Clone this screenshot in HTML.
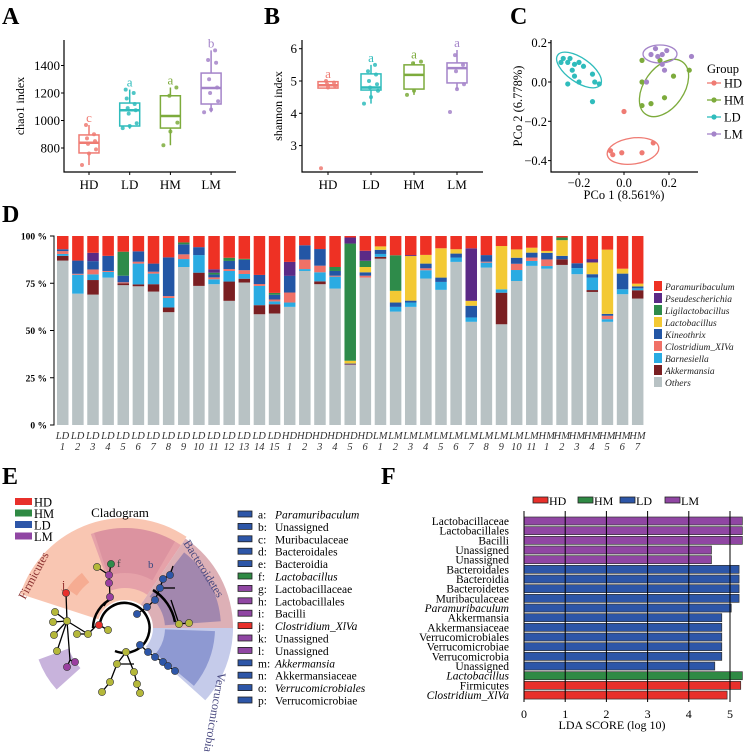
<!DOCTYPE html>
<html><head><meta charset="utf-8"><style>
html,body{margin:0;padding:0;background:#fff}
svg{display:block;font-family:"Liberation Serif",serif}
</style></head><body>
<svg id="fig" width="754" height="752" viewBox="0 0 754 752" xmlns="http://www.w3.org/2000/svg">
<g font-weight="bold" font-size="24" fill="#000">
<text x="2" y="24">A</text>
<text x="264" y="24">B</text>
<text x="510" y="24">C</text>
<text x="2" y="222">D</text>
<text x="2" y="484">E</text>
<text x="381" y="484">F</text>
</g>
<g id="pa"></g>
<g id="pb"></g>
<g id="pc"></g>
<g id="pd"></g>
<g id="pe"></g>
<g id="pf"></g>
</svg>
<script>
// ---------- data ----------
const groupNames = ["HD","LD","HM","LM"];
const groupColors = ["#ef7b73","#2fbcbc","#7dab3c","#a484c9"];
const chaoQ1 = [764,960,945,1120];
const chaoMed = [838,1075,1033,1236];
const chaoQ3 = [895,1127,1180,1345];
const chaoLo = [676,940,820,1060];
const chaoHi = [967,1225,1240,1510];
const chaoLetters = ["c","a","a","b"];
const chaoPts = [[676,760,790,830,850,870,900,967],[945,960,980,1050,1075,1090,1120,1160,1200,1225],[820,920,985,1180,1240],[1060,1080,1140,1200,1240,1300,1420,1440,1510]];
const shQ1 = [4.78,4.72,4.75,4.94];
const shMed = [4.87,4.8,5.19,5.4];
const shQ3 = [4.98,5.22,5.5,5.56];
const shLo = [4.75,4.3,4.57,4.75];
const shHi = [5.0,5.5,5.6,5.96];
const shLetters = ["a","a","a","a"];
const shPts = [[2.3,4.8,4.85,4.9,4.95,5.0],[4.3,4.5,4.7,4.8,4.9,5.0,5.2,5.3,5.5],[4.57,4.7,5.6,5.55],[4.04,4.75,4.9,5.3,5.5,5.8]];
const pcoLDx = [-0.28,-0.27,-0.25,-0.24,-0.22,-0.2,-0.18,-0.23,-0.22,-0.25,-0.2,-0.14,-0.13,-0.11,-0.14];
const pcoLDy = [0.1,0.12,0.1,0.12,0.09,0.1,0.08,0.06,0.03,-0.01,0.0,0.04,0.0,-0.01,-0.1];
const pcoHDx = [0.0,-0.06,-0.05,-0.01,0.08,0.13];
const pcoHDy = [-0.15,-0.35,-0.37,-0.36,-0.36,-0.31];
const pcoHMx = [0.08,0.08,0.12,0.08,0.18,0.22,0.29,0.16];
const pcoHMy = [0.11,0.0,-0.11,-0.12,-0.08,0.03,0.06,0.11];
const pcoLMx = [0.12,0.15,0.17,0.19,0.17,0.18,0.1,0.3,0.14];
const pcoLMy = [0.14,0.13,0.14,0.16,0.09,0.06,0.0,0.13,0.17];
const pcoXTicks = [-0.2,0.0,0.2];
const pcoYTicks = [0.2,0.0,-0.2,-0.4];

const samples = ["LD 1","LD 2","LD 3","LD 4","LD 5","LD 6","LD 7","LD 8","LD 9","LD 10","LD 11","LD 12","LD 13","LD 14","LD 15","HD 1","HD 2","HD 3","HD 4","HD 5","HD 6","LM 1","LM 2","LM 3","LM 4","LM 5","LM 6","LM 7","LM 8","LM 9","LM 10","LM 11","HM 1","HM 2","HM 3","HM 4","HM 5","HM 6","HM 7"];
const taxa = ["Others","Akkermansia","Barnesiella","Clostridium_XIVa","Kineothrix","Lactobacillus","Ligilactobacillus","Pseudescherichia","Paramuribaculum"];
const taxaColors = ["#b8c2c4","#7a1f22","#2aabe2","#f07167","#2356a5","#f3c934","#2e8b4a","#5b2a86","#ee3124"];
// per sample: [Others, Akk, Barn, Clos, Kin, Lacto, Ligi, Pseu, Para]
const abund = [
[87,2.5,1,1.5,1,0,0,0,7],[69.5,0,10,0.5,7,0,0,0,13],[69,7.7,3,2.6,4.4,0,0,4.4,8.9],[78,0,3,0.5,8,0,0,0,10.5],
[74,1,0,0.5,3.5,0,12.7,0,8.3],[73.4,1,11,1,5.5,0,0,0,8.1],[70.6,3.9,5.6,1,4.3,0,0,0,14.6],[59.7,2.5,5,1,20.5,0,0,0,11.3],
[83.6,0,4.2,2.5,5.3,0,1,0,3.4],[73.6,7,9.3,0,4.2,0,0,0,5.9],[74.5,0,2.6,1,1.5,0,1,1.8,17.6],[65.7,10.2,5.6,1,4.3,0,1.7,0,11.5],
[75.4,2,2.5,2,5.5,0,0.5,0,12.1],[58.6,4.8,10.2,1,4.8,0,0,0,20.6],[59,4.9,1.5,1,2.5,0,1,0,30.1],[62.5,0,2.3,5.3,8.8,0,0,7.4,13.7],
[81.5,0,1,5,7.6,0,0,0,4.9],[74.5,1.5,4.8,3.5,8.8,0,0,0,6.9],[72.2,0,6.3,0.5,2.5,0,2.1,0,16.4],[31.7,0,0,0.3,0.5,1.5,62,3.2,0.8],
[78,0,0,1,1.8,2.8,3.3,5.3,7.8],[88,1,1.5,0,2.2,1.8,0,0,5.5],[60,0,2.5,0,2.3,6.2,18.8,0,10.2],[62.5,0,2.3,0,1,23.6,0,0.5,10.1],
[77.5,0,4.4,1,2.5,4.6,0,0,10],[71.5,0,4.2,0,2.3,15.5,0,0,6.5],[86.3,0,2.3,0,2.1,2.3,0,0,7],[54.6,0,2.3,0,6.2,2.6,0,27.8,6.5],
[83.3,0,2.6,0.5,3.5,0,0,0,10.1],[53.3,16.7,1.8,0,0,22.9,0,0,5.3],[76.2,0,5.8,3.3,3.2,4.4,0,0,7.1],[84.2,0,2.6,1.8,2.6,2.6,0,0,6.2],
[82.7,0,1.4,3.5,3.5,1,0,0,7.9],[84.7,3,0,0,1.8,8.3,1.4,0,0.8],[79.8,0,3.2,0,2.6,0,0,0,14.4],[70.4,1,6.6,0,1.8,6.2,0,1.8,12.2],
[54.6,0,1.4,1.8,1,34,0,0,7.2],[69.2,0,2.6,0,8.3,2.6,0,0,17.3],[66.9,4.4,1,0,1,1.5,0,0,25.2]];
const dTicks = [0,25,50,75,100];

const ldaLabels = ["Lactobacillaceae","Lactobacillales","Bacilli","Unassigned","Unassigned","Bacteroidales","Bacteroidia","Bacteroidetes","Muribaculaceae","Paramuribaculum","Akkermansia","Akkermansiaceae","Verrucomicrobiales","Verrucomicrobiae","Verrucomicrobia","Unassigned","Lactobacillus","Firmicutes","Clostridium_XlVa"];
const ldaValues = [5.3,5.3,5.3,4.55,4.55,5.22,5.22,5.22,5.22,5.03,4.8,4.8,4.8,4.8,4.8,4.63,5.3,5.26,4.93];
const ldaGroup = ["LM","LM","LM","LM","LM","LD","LD","LD","LD","LD","LD","LD","LD","LD","LD","LD","HM","HD","HD"];
const ldaItalic = [0,0,0,0,0,0,0,0,0,1,0,0,0,0,0,0,1,0,1];
const ldaTicks = [0,1,2,3,4,5];
const ldaGroups = ["HD","HM","LD","LM"];
const ldaColors = {HD:"#e8302b",HM:"#2f8a44",LD:"#2d56a8",LM:"#9046a3"};

const cladeKeys = ["a:","b:","c:","d:","e:","f:","g:","h:","i:","j:","k:","l:","m:","n:","o:","p:"];
const cladeNames = ["Paramuribaculum","Unassigned","Muribaculaceae","Bacteroidales","Bacteroidia","Lactobacillus","Lactobacillaceae","Lactobacillales","Bacilli","Clostridium_XlVa","Unassigned","Unassigned","Akkermansia","Akkermansiaceae","Verrucomicrobiales","Verrucomicrobiae"];
const cladeGroup = ["LD","LD","LD","LD","LD","HM","LM","LM","LM","HD","LM","LM","LD","LD","LD","LD"];
const cladeItalic = [1,0,0,0,0,1,0,0,0,1,0,0,1,0,1,0];

// ---------- helpers ----------
const NS="http://www.w3.org/2000/svg";
function mk(parent,tag,attrs,text){const e=document.createElementNS(NS,tag);for(const k in attrs)e.setAttribute(k,attrs[k]);if(text!==undefined)e.textContent=text;parent.appendChild(e);return e;}

// ---------- panel A ----------
(function(){
const g=document.getElementById('pa');
const yA=v=>148-(v-800)*0.1375;
const xA=i=>89+i*40.7;
mk(g,'path',{d:'M64 40 V172 H236',fill:'none',stroke:'#000','stroke-width':1.2});
[800,1000,1200,1400].forEach(t=>{mk(g,'line',{x1:61,x2:64,y1:yA(t),y2:yA(t),stroke:'#000'});
const tl=mk(g,'text',{x:60,y:yA(t)+4.5,'text-anchor':'end','font-size':13},t);

});
const yt=mk(g,'text',{transform:'translate(24,106) rotate(-90)','text-anchor':'middle','font-size':12},'chao1 index');


groupNames.forEach((n,i)=>{
const x=xA(i),c=groupColors[i];
mk(g,'line',{x1:x,x2:x,y1:yA(chaoLo[i]),y2:yA(chaoHi[i]),stroke:c,'stroke-width':1.5});
const b=mk(g,'rect',{x:x-10,y:yA(chaoQ3[i]),width:20,height:yA(chaoQ1[i])-yA(chaoQ3[i]),fill:'#fff',stroke:c,'stroke-width':1.5});


mk(g,'line',{x1:x-10,x2:x+10,y1:yA(chaoMed[i]),y2:yA(chaoMed[i]),stroke:c,'stroke-width':2.5});
chaoPts[i].forEach((v,j)=>mk(g,'circle',{cx:x+((j*7)%15-7),cy:yA(v),r:2,fill:c,opacity:.85}));
mk(g,'text',{x:x,y:yA(chaoHi[i])-3,'text-anchor':'middle','font-size':13,fill:c},chaoLetters[i]);
const xl=mk(g,'text',{x:x,y:189,'text-anchor':'middle','font-size':13},n);


mk(g,'line',{x1:x,x2:x,y1:172,y2:175,stroke:'#000'});
});
})();

// ---------- panel B ----------
(function(){
const g=document.getElementById('pb');
const yB=v=>81-(v-5)*32.3;
const xB=i=>328+i*43;
mk(g,'path',{d:'M302 40 V172 H483',fill:'none',stroke:'#000','stroke-width':1.2});
[3,4,5,6].forEach(t=>{mk(g,'line',{x1:299,x2:302,y1:yB(t),y2:yB(t),stroke:'#000'});
const tl=mk(g,'text',{x:297,y:yB(t)+4.5,'text-anchor':'end','font-size':13},t);

});
const yt=mk(g,'text',{transform:'translate(282,106) rotate(-90)','text-anchor':'middle','font-size':12},'shannon index');


groupNames.forEach((n,i)=>{
const x=xB(i),c=groupColors[i];
mk(g,'line',{x1:x,x2:x,y1:yB(shLo[i]),y2:yB(shHi[i]),stroke:c,'stroke-width':1.5});
const b=mk(g,'rect',{x:x-10,y:yB(shQ3[i]),width:20,height:yB(shQ1[i])-yB(shQ3[i]),fill:'#fff',stroke:c,'stroke-width':1.5});


mk(g,'line',{x1:x-10,x2:x+10,y1:yB(shMed[i]),y2:yB(shMed[i]),stroke:c,'stroke-width':2.5});
shPts[i].forEach((v,j)=>mk(g,'circle',{cx:x+((j*7)%15-7),cy:yB(v),r:2,fill:c,opacity:.85}));
mk(g,'text',{x:x,y:yB(shHi[i])-3,'text-anchor':'middle','font-size':13,fill:c},shLetters[i]);
const xl=mk(g,'text',{x:x,y:189,'text-anchor':'middle','font-size':13},n);


mk(g,'line',{x1:x,x2:x,y1:172,y2:175,stroke:'#000'});
});
})();

// ---------- panel C ----------
(function(){
const g=document.getElementById('pc');
const xC=v=>624+v*225, yC=v=>82-v*196.5;
mk(g,'path',{d:'M551 40 V172 H698',fill:'none',stroke:'#000','stroke-width':1.2});
pcoYTicks.forEach(t=>{mk(g,'line',{x1:548,x2:551,y1:yC(t),y2:yC(t),stroke:'#000'});
const tl=mk(g,'text',{x:547,y:yC(t)+4.5,'text-anchor':'end','font-size':12.5},t.toFixed(1).replace('-','\u2212'));

});
pcoXTicks.forEach(t=>{mk(g,'line',{x1:xC(t),x2:xC(t),y1:172,y2:175,stroke:'#000'});
const tl=mk(g,'text',{x:xC(t),y:187,'text-anchor':'middle','font-size':12.5},t.toFixed(1).replace('-','\u2212'));

});
const xt=mk(g,'text',{x:624,y:199,'text-anchor':'middle','font-size':12.5},'PCo 1 (8.561%)');


const yt=mk(g,'text',{transform:'translate(522,106) rotate(-90)','text-anchor':'middle','font-size':12.5},'PCo 2 (6.778%)');


const ell=[['#2fbcbc',579,70,26,12,35],['#7dab3c',664,88,32,20,-55],['#a484c9',660,54,17,9,0],['#ef7b73',633,151,26,13,-8]];
ell.forEach(e=>{const el=mk(g,'ellipse',{cx:e[1],cy:e[2],rx:e[3],ry:e[4],transform:`rotate(${e[5]} ${e[1]} ${e[2]})`,fill:'none',stroke:e[0],'stroke-width':1.3});

});
const sets=[[pcoLDx,pcoLDy,'#2fbcbc'],[pcoHDx,pcoHDy,'#ef7b73'],[pcoHMx,pcoHMy,'#7dab3c'],[pcoLMx,pcoLMy,'#a484c9']];
sets.forEach(s=>s[0].forEach((x,i)=>{const p=mk(g,'circle',{cx:xC(x),cy:yC(s[1][i]),r:2.6,fill:s[2]});

}));
mk(g,'text',{x:707,y:73,'font-size':12.5},'Group');
[['HD','#ef7b73'],['HM','#7dab3c'],['LD','#2fbcbc'],['LM','#a484c9']].forEach((l,i)=>{
const y=83+i*17;
const le=mk(g,'g',{});


mk(le,'line',{x1:707,x2:721,y1:y,y2:y,stroke:l[1],'stroke-width':1.3});
mk(le,'circle',{cx:714,cy:y,r:2.6,fill:l[1]});
mk(le,'text',{x:724,y:y+4.5,'font-size':12.5},l[0]);
});
})();

// ---------- panel D ----------
(function(){
const g=document.getElementById('pd');
const yD=p=>425-p*1.89, xD=i=>57+i*15.13;
mk(g,'path',{d:'M51 236 H54 V425 H51',fill:'none',stroke:'#000','stroke-width':1});
dTicks.forEach(t=>{mk(g,'line',{x1:50,x2:54,y1:yD(t),y2:yD(t),stroke:'#000'});
const tl=mk(g,'text',{x:47,y:yD(t)+3.5,'text-anchor':'end','font-size':9.5,'font-weight':'bold'},t+' %');

});
abund.forEach((row,i)=>{
let cum=0;
const bg=mk(g,'g',{});


const tot=row.reduce((a,b)=>a+b,0);
row.forEach((v,k)=>{const p=v/tot*100;if(p<=0)return;
mk(bg,'rect',{x:xD(i),y:yD(cum+p),width:11.5,height:p*1.89,fill:taxaColors[k]});cum+=p;});
const [a,b]=samples[i].split(' ');
const lb=mk(g,'text',{x:xD(i)+5.5,y:439,'text-anchor':'middle','font-size':10.5,'font-style':'italic',fill:'#333'});


mk(lb,'tspan',{x:xD(i)+5.5,y:439},a);mk(lb,'tspan',{x:xD(i)+5.5,y:450},b);
});
const order=[8,7,6,5,4,3,2,1,0];
order.forEach((k,j)=>{const y=287+j*12;
const le=mk(g,'g',{});


mk(le,'rect',{x:654,y:y-6,width:8,height:10,fill:taxaColors[k]});
mk(le,'text',{x:665,y:y+3,'font-size':9.5,'font-style':'italic',fill:'#222'},taxa[k]);});
})();

// ---------- panel E ----------
(function(){
const g=document.getElementById('pe');
const cx=125,cy=628;
function wedge(r0,r1,a0,a1,fill,op){const rad=a=>a*Math.PI/180;
const p=(r,a)=>[cx+r*Math.cos(rad(a)),cy-r*Math.sin(rad(a))];
const [x1,y1]=p(r1,a0),[x2,y2]=p(r1,a1),[x3,y3]=p(r0,a1),[x4,y4]=p(r0,a0);
const lg=(a1-a0)>180?1:0;
return mk(g,'path',{d:`M${x1} ${y1} A${r1} ${r1} 0 ${lg} 0 ${x2} ${y2} L${x3} ${y3} A${r0} ${r0} 0 ${lg} 1 ${x4} ${y4}Z`,fill:fill,opacity:op});}
wedge(28,110,56,162,'#f9c6b2',1);
wedge(40,100,56,110,'#d88aa4',.6);
wedge(55,100,60,108,'#c9798f',.35);
wedge(58,70,128,146,'#f5a88e',.9);
wedge(28,108,0,56,'#ddb0b6',1);
wedge(40,96,4,52,'#8e7aab',.75);
wedge(28,108,-42,0,'#c5cbea',1);
wedge(40,90,-40,-2,'#7f8ccc',.8);
wedge(60,92,200,222,'#c8b3dc',1);
mk(g,'circle',{cx:cx,cy:cy,r:24,fill:'#fff'});
mk(g,'path',{d:`M${cx-25} ${cy-5} A25 25 0 1 1 ${cx-10} ${cy+23}`,fill:'none',stroke:'#000','stroke-width':2.5});
mk(g,'path',{d:`M${cx-32} ${cy} A33 33 0 0 1 ${cx-12} ${cy-30}`,fill:'none',stroke:'#000','stroke-width':2.5});
mk(g,'path',{d:`M${cx+28} ${cy-38} A48 48 0 0 1 ${cx+50} ${cy-6}`,fill:'none',stroke:'#000','stroke-width':2.5});
const lines=[[97,625,88,634],[88,634,77,634],[88,634,67,621],[67,621,66,593],[67,621,55,612],[67,621,54,635],[67,621,57,651],[67,621,53,622],[67,621,70,660],[70,660,75,662],[70,660,67,667],
[110,597,109,575],[109,575,111,564],[110,597,104,606],[109,575,97,567],[99,625,108,630],
[126,652,117,664],[117,664,110,682],[110,682,102,692],[126,652,134,672],[134,672,137,684],[137,684,140,693],[117,664,134,664],
[137,614,147,607],[147,607,155,600],[155,600,160,588],[160,588,163,579],[163,579,170,575],[160,588,175,588],[170,575,173,566],[171,600,179,624],[179,624,189,623],
[140,645,148,652],[148,652,155,657],[155,657,163,662],[163,662,168,666],[168,666,175,671]];
lines.forEach(l=>mk(g,'line',{x1:l[0],y1:l[1],x2:l[2],y2:l[3],stroke:'#000','stroke-width':1.3}));
const nodes=[['#b5b83a',[[97,567],[55,612],[67,621],[54,635],[77,634],[88,634],[57,651],[108,630],[126,652],[117,664],[134,672],[110,682],[137,684],[102,692],[140,693],[179,624],[189,623],[53,622]]],
['#9a3fa0',[[109,575],[109,583],[110,597],[67,667],[75,662]]],['#2e8b4a',[[111,564]]],['#e8302b',[[66,593],[99,625]]],
['#2d56a8',[[137,614],[147,607],[155,600],[160,588],[163,579],[170,575],[140,645],[148,652],[155,657],[163,662],[168,666],[175,671]]]];
nodes.forEach(n=>n[1].forEach(p=>{const c=mk(g,'circle',{cx:p[0],cy:p[1],r:3.6,fill:n[0],stroke:'#333','stroke-width':.6});

}));
mk(g,'text',{x:117,y:567,'font-size':11,fill:'#444'},'f');
mk(g,'text',{x:148,y:568,'font-size':11,fill:'#3a4a80'},'b');
mk(g,'text',{x:62,y:588,'font-size':11,fill:'#8a2020'},'j');
mk(g,'text',{transform:'translate(25,600) rotate(-62)','font-size':12,fill:'#8a3030'},'Firmicutes');
mk(g,'text',{transform:'translate(183,543) rotate(58)','font-size':12,fill:'#4a4a80'},'Bacteroidetes');
mk(g,'text',{transform:'translate(218,672) rotate(100)','font-size':12,fill:'#4a4a80'},'Verrucomicrobia');
const ct=mk(g,'text',{x:120,y:517,'text-anchor':'middle','font-size':13},'Cladogram');


[['HD','#e8302b'],['HM','#2f8a44'],['LD','#2d56a8'],['LM','#9046a3']].forEach((l,i)=>{const y=502+i*11.5;
const le=mk(g,'g',{});


mk(le,'rect',{x:15,y:y-4,width:17,height:7,fill:l[1]});
mk(le,'text',{x:34,y:y+4.5,'font-size':12.5},l[0]);});
cladeKeys.forEach((k,i)=>{const y=514+i*12.4;
const le=mk(g,'g',{});


mk(le,'rect',{x:238,y:y-3,width:14,height:6,fill:ldaColors[cladeGroup[i]],stroke:'#222','stroke-width':.8});
mk(le,'text',{x:258,y:y+4.5,'font-size':11.5},k);
mk(le,'text',{x:275,y:y+4.5,'font-size':11.5,'font-style':cladeItalic[i]?'italic':'normal'},cladeNames[i]);});
})();

// ---------- panel F ----------
(function(){
const g=document.getElementById('pf');
const xF=v=>524+v*41.2, yF=i=>521+i*9.67;
ldaValues.forEach((v,i)=>{const r=mk(g,'rect',{x:xF(0),y:yF(i)-4,width:xF(v)-xF(0),height:8,fill:ldaColors[ldaGroup[i]],stroke:'#333','stroke-width':.7});


const t=mk(g,'text',{x:509,y:yF(i)+4,'text-anchor':'end','font-size':11.5,'font-style':ldaItalic[i]?'italic':'normal'},ldaLabels[i]);

});
ldaTicks.forEach(t=>{mk(g,'line',{x1:xF(t),x2:xF(t),y1:511,y2:702,stroke:'#000','stroke-width':1});
const tl=mk(g,'text',{x:xF(t),y:718,'text-anchor':'middle','font-size':12},t);

});
const xt=mk(g,'text',{x:612,y:729,'text-anchor':'middle','font-size':12},'LDA SCORE (log 10)');


let lx=533;
ldaGroups.forEach(n=>{const le=mk(g,'g',{});


mk(le,'rect',{x:lx,y:497,width:15,height:6,fill:ldaColors[n],stroke:'#222','stroke-width':.8});
mk(le,'text',{x:lx+16,y:505,'font-size':12},n);lx+=n==='HM'?42:45;});
})();
</script>
</body></html>
